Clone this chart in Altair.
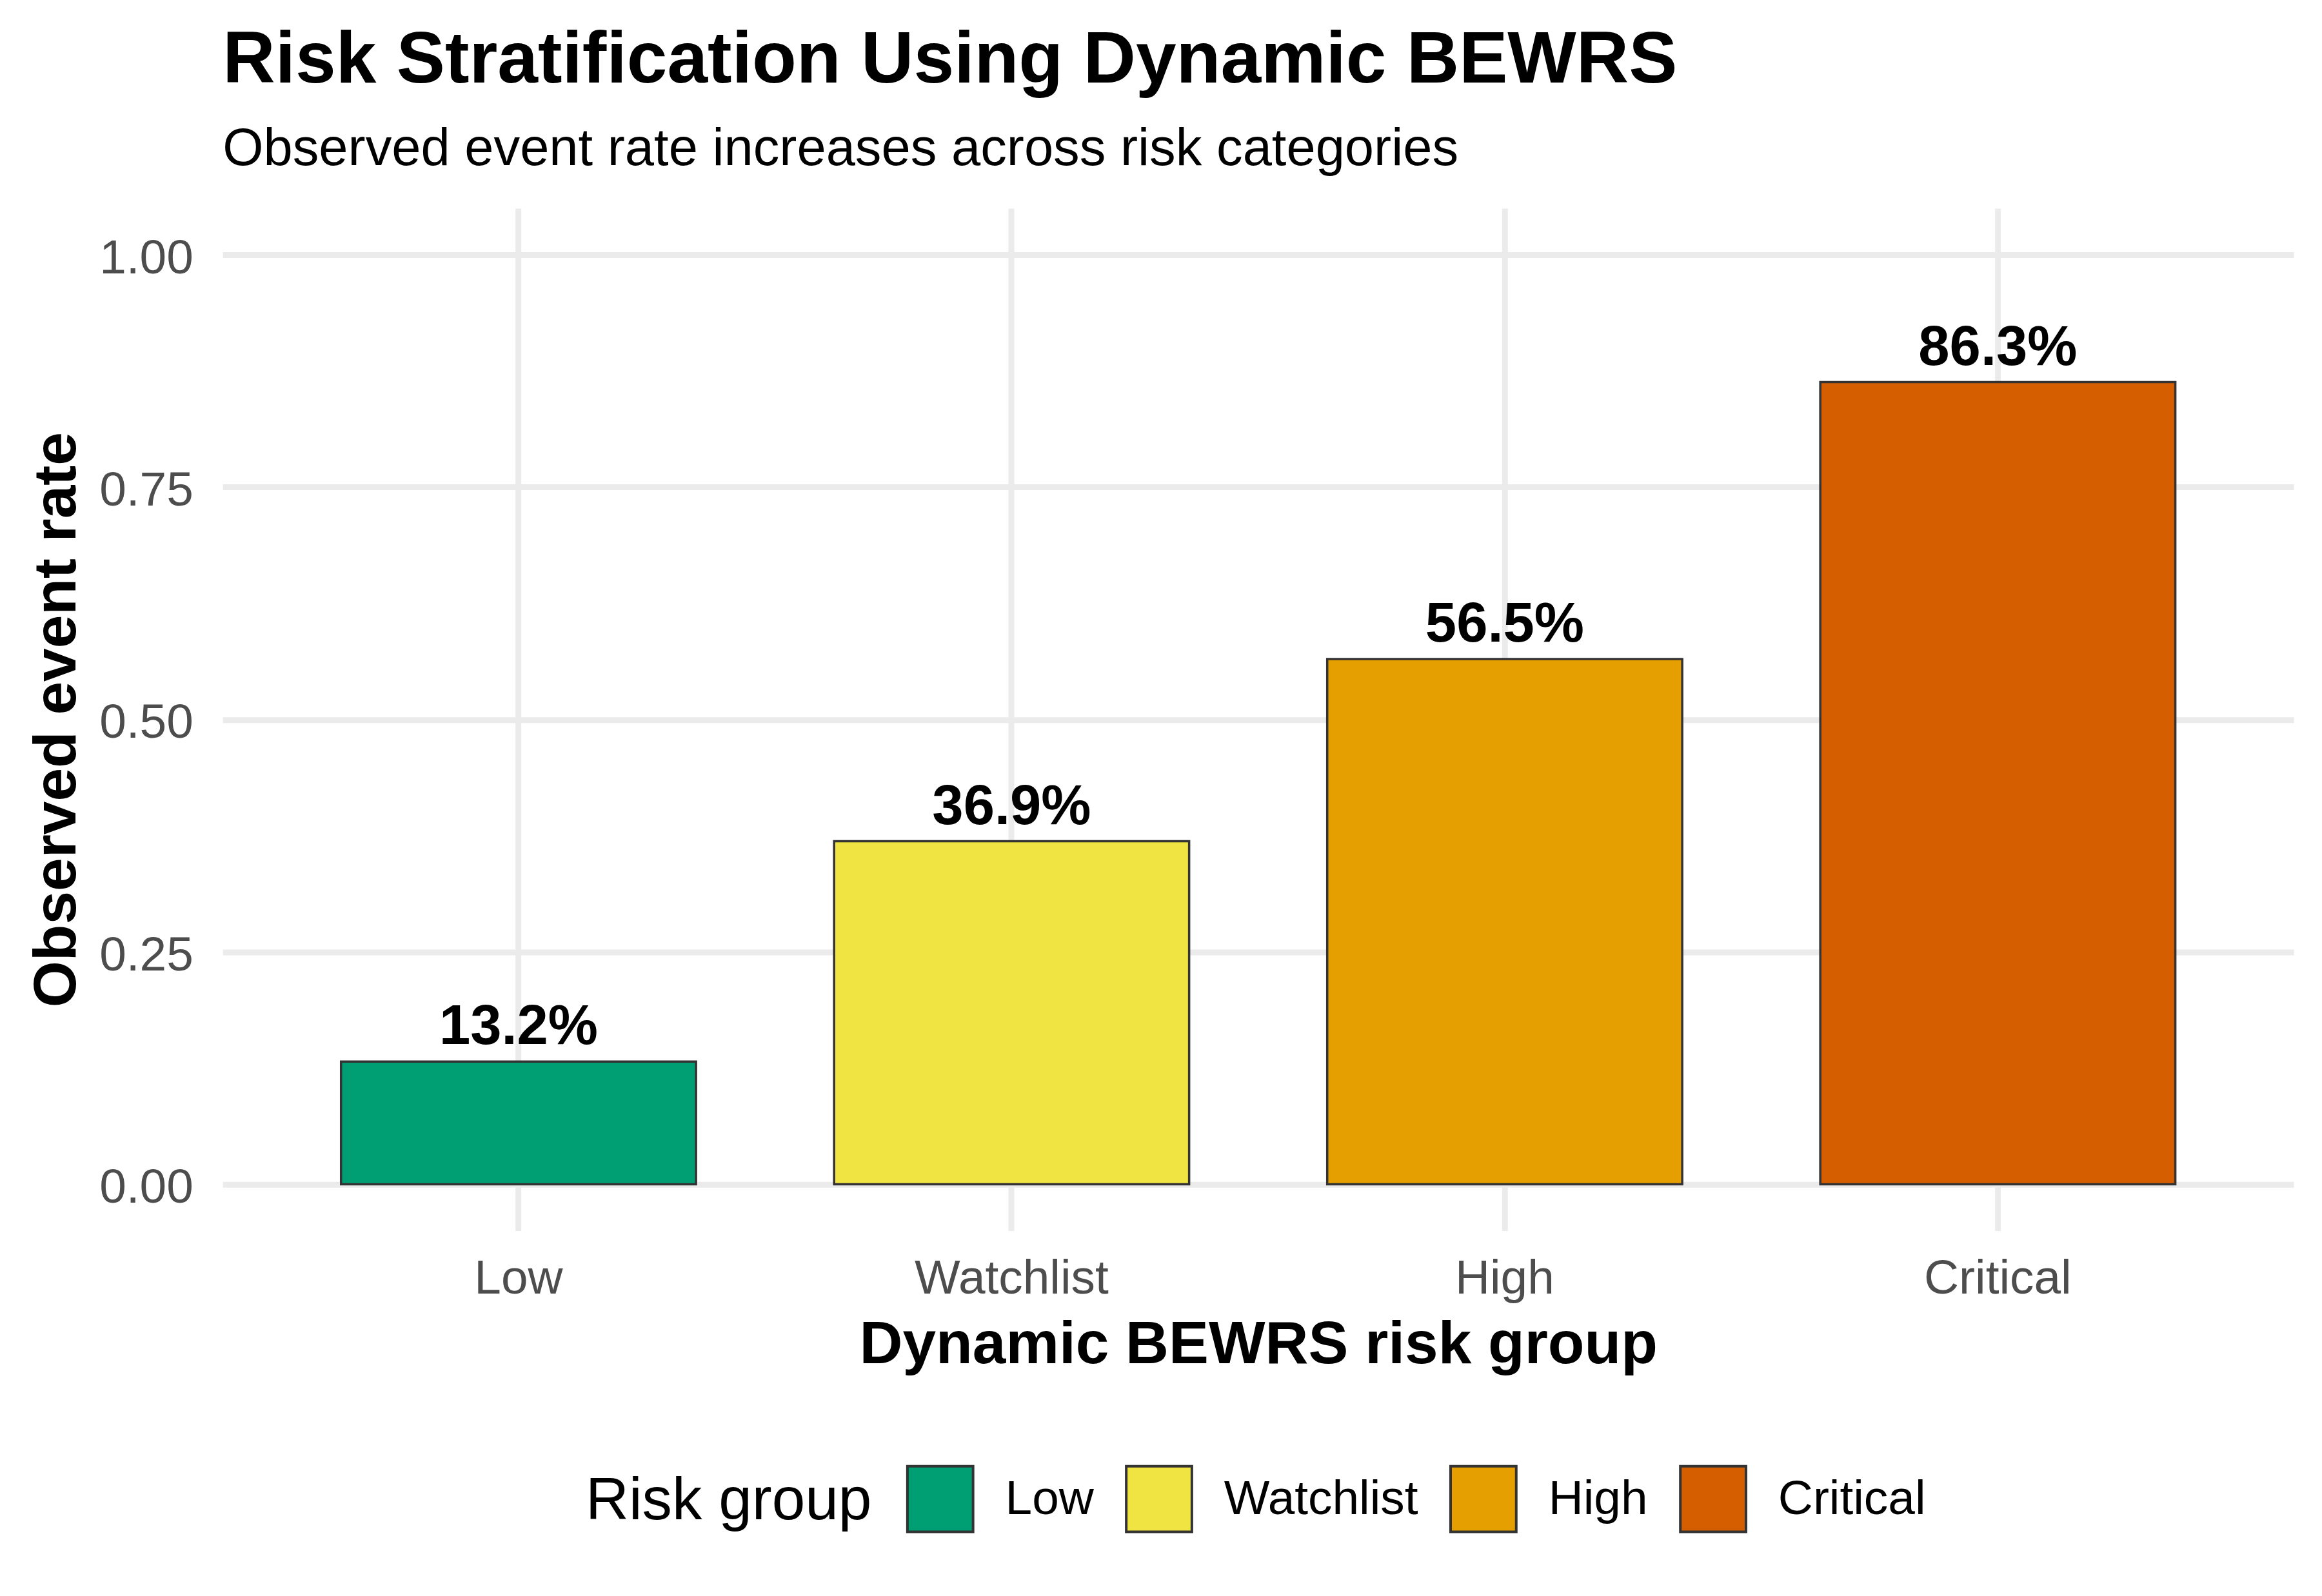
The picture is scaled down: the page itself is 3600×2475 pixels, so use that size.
import altair as alt
import pandas as pd

groups = ["Low", "Watchlist", "High", "Critical"]
rates = [0.132, 0.369, 0.565, 0.863]
labels = ["13.2%", "36.9%", "56.5%", "86.3%"]
colors = ["#009E73", "#F0E442", "#E69F00", "#D55E00"]
y_ticks = [0.0, 0.25, 0.5, 0.75, 1.0]

df = pd.DataFrame({"group": groups, "rate": rates, "label": labels})

FONT = "Liberation Sans"
W, H = 3218, 1589

x_enc = alt.X(
    "group:N",
    sort=groups,
    title="Dynamic BEWRS risk group",
    scale=alt.Scale(paddingInner=0.28, paddingOuter=0.24),
    axis=alt.Axis(
        labelAngle=0,
        labelFontSize=75,
        labelColor="#4D4D4D",
        labelFont=FONT,
        labelBaseline="alphabetic",
        labelPadding=97,
        labelLimit=0,
        titleFontSize=93,
        titleFontWeight="bold",
        titleFont=FONT,
        titleColor="black",
        titleX=W / 2,
        titleY=205,
        titleBaseline="alphabetic",
        titleLimit=0,
        grid=True,
    ),
)

y_enc = alt.Y(
    "rate:Q",
    title="Observed event rate",
    scale=alt.Scale(domain=[-0.05, 1.05], nice=False, zero=False),
    axis=alt.Axis(
        values=y_ticks,
        format=".2f",
        labelFontSize=75,
        labelColor="#4D4D4D",
        labelFont=FONT,
        labelPadding=46,
        labelBaseline="alphabetic",
        labelOffset=28,
        labelLimit=0,
        titleFontSize=93,
        titleFontWeight="bold",
        titleFont=FONT,
        titleColor="black",
        titleAngle=270,
        titleX=-229,
        titleY=H / 2,
        titleBaseline="alphabetic",
        titleAlign="center",
        titleLimit=0,
        grid=True,
    ),
)

color_enc = alt.Color(
    "group:N",
    sort=groups,
    scale=alt.Scale(domain=groups, range=colors),
    legend=alt.Legend(
        title="Risk group",
        orient="none",
        legendX=564,
        legendY=1953,
        direction="horizontal",
        titleOrient="left",
        titleAnchor="middle",
        titleBaseline="middle",
        titleFontSize=93,
        titleFontWeight="normal",
        titleFont=FONT,
        titleColor="black",
        titlePadding=53,
        titleLimit=0,
        labelFont=FONT,
        labelFontSize=75,
        labelColor="black",
        labelOffset=48,
        labelLimit=0,
        columnPadding=42,
        symbolType="square",
        symbolSize=10404,
        symbolStrokeColor="#333333",
        symbolStrokeWidth=4,
        symbolOpacity=1,
        padding=0,
    ),
)

bars = alt.Chart(df).mark_bar(stroke="#333333", strokeWidth=3.5).encode(
    x=x_enc,
    y=y_enc,
    y2=alt.datum(0),
    color=color_enc,
)

text = alt.Chart(df).mark_text(
    font=FONT,
    fontSize=87,
    fontWeight="bold",
    color="black",
    baseline="alphabetic",
    dy=-27,
).encode(
    x=alt.X("group:N", sort=groups),
    y=alt.Y("rate:Q"),
    text="label:N",
)

chart = (
    alt.layer(bars, text)
    .properties(
        width=W,
        height=H,
        title=alt.TitleParams(
            text="Risk Stratification Using Dynamic BEWRS",
            subtitle="Observed event rate increases across risk categories",
            anchor="start",
            frame="group",
            font=FONT,
            fontSize=113,
            fontWeight="bold",
            color="black",
            subtitleFont=FONT,
            subtitleFontSize=81.5,
            subtitleColor="black",
            offset=50,
            subtitlePadding=40,
        ),
        autosize=alt.AutoSizeParams(type="none"),
        padding={"left": 338, "top": 313, "right": 36, "bottom": 565},
    )
    .configure_view(stroke=None)
    .configure_axis(
        domain=False,
        ticks=False,
        tickSize=0,
        gridColor="#EBEBEB",
        gridWidth=9,
    )
)

chart.save("out.html", embed_options={"renderer": "svg", "actions": False})
